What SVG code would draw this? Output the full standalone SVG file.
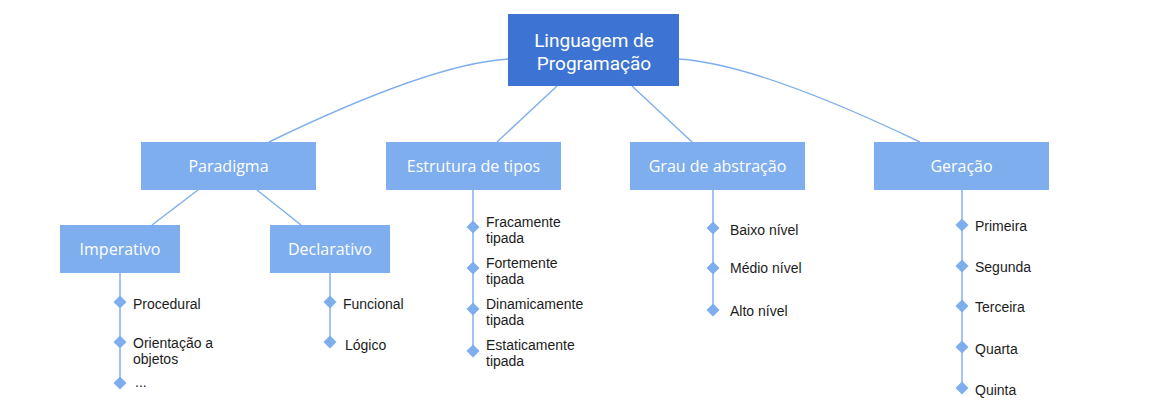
<svg xmlns="http://www.w3.org/2000/svg" xmlns:xlink="http://www.w3.org/1999/xlink" width="1176" height="419" viewBox="0 0 1176 419">
<style>
.root{fill:#3d74d3}
.box{fill:#7eaeee}
.rt{font-family:Roboto,"Open Sans",sans-serif;font-size:19px;fill:#ffffff;text-anchor:middle}
.bt{font-family:"Open Sans","Noto Sans",sans-serif;font-size:16px;fill:#ffffff;text-anchor:middle}
.lt{font-family:"Liberation Sans",Arial,sans-serif;font-size:14px;fill:#1c1c1c}
.con{fill:none;stroke:#7eaeee;stroke-width:1.4}
.vl{stroke:#a3c4f2;stroke-width:2;fill:none}
.dm{fill:#7eaeee}
</style>
<defs>
<path id="dm" class="dm" d="M0,-6.5 L6.5,0 L0,6.5 L-6.5,0Z"/>
</defs>
<rect width="1176" height="419" fill="#ffffff"/>
<g id="connectors">
<path class="con" d="M508,59 Q430,64 269,142"/>
<path class="con" d="M679,59 Q757,64 920,142"/>
<path class="con" d="M557,86 L497,142"/>
<path class="con" d="M632,86 L692,142"/>
<path class="con" d="M198,190 L152,225"/>
<path class="con" d="M257,190 L301,225"/>
<path class="vl" d="M120,273 V383"/>
<path class="vl" d="M330,273 V342"/>
<path class="vl" d="M473,190 V351"/>
<path class="vl" d="M713,190 V310"/>
<path class="vl" d="M962,190 V388"/>
</g>
<g id="root">
<rect class="root" x="508" y="14" width="171" height="72"/>
<text class="rt"><tspan x="594" y="47">Linguagem de</tspan><tspan x="594" dy="23">Programação</tspan></text>
</g>
<g id="paradigma">
<rect class="box" x="141" y="142" width="175" height="48"/>
<text class="bt" x="228.5" y="172">Paradigma</text>
</g>
<g id="estrutura">
<rect class="box" x="386" y="142" width="175" height="48"/>
<text class="bt" x="473.5" y="172">Estrutura de tipos</text>
</g>
<g id="grau">
<rect class="box" x="630" y="142" width="175" height="48"/>
<text class="bt" x="717.5" y="172">Grau de abstração</text>
</g>
<g id="geracao">
<rect class="box" x="874" y="142" width="175" height="48"/>
<text class="bt" x="961.5" y="172">Geração</text>
</g>
<g id="imperativo">
<rect class="box" x="60" y="225" width="120" height="48"/>
<text class="bt" x="120" y="255">Imperativo</text>
</g>
<g id="declarativo">
<rect class="box" x="270" y="225" width="120" height="48"/>
<text class="bt" x="330" y="255">Declarativo</text>
</g>
<g id="imperativo-items">
<use xlink:href="#dm" x="120" y="302"/>
<text class="lt" x="133" y="309">Procedural</text>
<use xlink:href="#dm" x="120" y="342"/>
<text class="lt"><tspan x="133" y="348">Orientação a</tspan><tspan x="133" dy="16">objetos</tspan></text>
<use xlink:href="#dm" x="120" y="383"/>
<text class="lt" x="135" y="387">...</text>
</g>
<g id="declarativo-items">
<use xlink:href="#dm" x="330" y="302"/>
<text class="lt" x="343" y="309">Funcional</text>
<use xlink:href="#dm" x="330" y="342"/>
<text class="lt" x="345" y="350">Lógico</text>
</g>
<g id="estrutura-items">
<use xlink:href="#dm" x="473" y="227"/>
<text class="lt"><tspan x="486" y="227">Fracamente</tspan><tspan x="486" dy="16">tipada</tspan></text>
<use xlink:href="#dm" x="473" y="268"/>
<text class="lt"><tspan x="486" y="268">Fortemente</tspan><tspan x="486" dy="16">tipada</tspan></text>
<use xlink:href="#dm" x="473" y="309"/>
<text class="lt"><tspan x="486" y="309">Dinamicamente</tspan><tspan x="486" dy="16">tipada</tspan></text>
<use xlink:href="#dm" x="473" y="351"/>
<text class="lt"><tspan x="486" y="350">Estaticamente</tspan><tspan x="486" dy="16">tipada</tspan></text>
</g>
<g id="grau-items">
<use xlink:href="#dm" x="713" y="228"/>
<text class="lt" x="730" y="235">Baixo nível</text>
<use xlink:href="#dm" x="713" y="268"/>
<text class="lt" x="730" y="273">Médio nível</text>
<use xlink:href="#dm" x="713" y="310"/>
<text class="lt" x="730" y="316">Alto nível</text>
</g>
<g id="geracao-items">
<use xlink:href="#dm" x="962" y="225"/>
<text class="lt" x="975" y="231">Primeira</text>
<use xlink:href="#dm" x="962" y="266"/>
<text class="lt" x="975" y="272">Segunda</text>
<use xlink:href="#dm" x="962" y="306"/>
<text class="lt" x="975" y="312">Terceira</text>
<use xlink:href="#dm" x="962" y="347"/>
<text class="lt" x="975" y="354">Quarta</text>
<use xlink:href="#dm" x="962" y="388"/>
<text class="lt" x="975" y="395">Quinta</text>
</g>
</svg>
